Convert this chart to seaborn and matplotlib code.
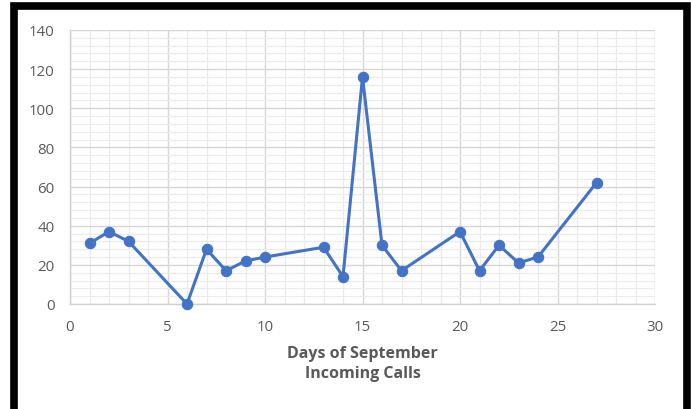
import matplotlib
matplotlib.use("Agg")
import matplotlib.pyplot as plt
from matplotlib.patches import Rectangle
from matplotlib.ticker import MultipleLocator
import seaborn as sns
import pandas as pd

days = [1, 2, 3, 6, 7, 8, 9, 10, 13, 14, 15, 16, 17, 20, 21, 22, 23, 24, 27]
calls = [31, 37, 32, 0, 28, 17, 22, 24, 29, 14, 116, 30, 17, 37, 17, 30, 21, 24, 62]

df = pd.DataFrame({"day": days, "calls": calls})

sns.set_style("white")
plt.rcParams['font.family'] = ['Open Sans', 'DejaVu Sans']

fig = plt.figure(figsize=(6.91, 4.10), dpi=100)
ax = fig.add_axes([70 / 691, 1 - 305 / 410, 585 / 691, 274 / 410])

sns.lineplot(data=df, x="day", y="calls", ax=ax, color="#4472C4", linewidth=2.2,
             marker="o", markersize=7.5, markeredgecolor="#4472C4", zorder=3,
             clip_on=False)

ax.set_xlim(0, 30)
ax.set_ylim(0, 140)
ax.xaxis.set_major_locator(MultipleLocator(5))
ax.xaxis.set_minor_locator(MultipleLocator(1))
ax.yaxis.set_major_locator(MultipleLocator(20))
ax.yaxis.set_minor_locator(MultipleLocator(4))
ax.grid(which="major", color="#d6d6d6", linewidth=1.0)
ax.grid(which="minor", color="#ebebeb", linewidth=0.9)
ax.set_axisbelow(True)

for side in ["top", "right"]:
    ax.spines[side].set_visible(False)
for side in ["left", "bottom"]:
    ax.spines[side].set_color("#d0d0d0")
    ax.spines[side].set_linewidth(1.0)

ax.tick_params(which="major", direction="out", length=4, color="#d0d0d0",
               labelcolor="#595959", labelsize=10.8, pad=7)
ax.tick_params(which="minor", length=0)

ax.set_xlabel("Days of September\nIncoming Calls", fontsize=11.5, fontweight="bold",
              color="#595959", labelpad=8, linespacing=1.3)
ax.set_ylabel("")

# outer black frame
fig.patches.append(Rectangle((14 / 691, -0.02), 673 / 691, 1 - 7 / 410 + 0.02,
                             transform=fig.transFigure, fill=False,
                             edgecolor="black", linewidth=5.5, zorder=10))

fig.savefig("out.png", dpi=100)
